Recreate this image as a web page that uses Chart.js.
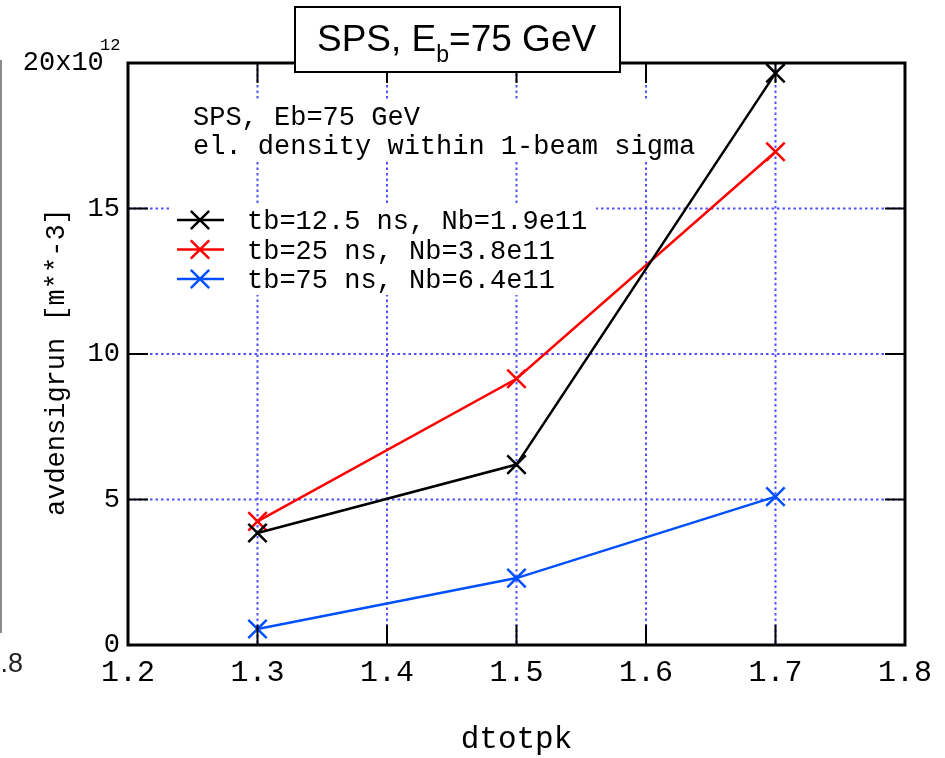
<!DOCTYPE html>
<html>
<head>
<meta charset="utf-8">
<script src="https://cdn.jsdelivr.net/npm/chart.js@4.4.1/dist/chart.umd.min.js"></script>
<style>
  html, body { margin: 0; padding: 0; background: #fff; }
  #wrap { width: 945px; height: 758px; }
</style>
</head>
<body>
<div id="wrap"><canvas id="plot" width="945" height="758"></canvas></div>
<script>
// dtotpk values where each run was made
var xValues = [1.3, 1.5, 1.7];

// average electron density within 1-beam sigma (units of 1e12 m**-3)
var dens125 = [3.85, 6.2, 19.65];
var dens25 = [4.25, 9.15, 16.95];
var dens75 = [0.55, 2.3, 5.1];

var seriesLabels = ['tb=12.5 ns, Nb=1.9e11', 'tb=25 ns, Nb=3.8e11', 'tb=75 ns, Nb=6.4e11'];
var seriesColors = ['#000000', '#ff0000', '#0050ff'];

var xTickStep = 0.1;
var yTickStep = 5;
var yTopLabel = '20x10';
var yTopExponent = '12';
var noteLines = ['SPS, Eb=75 GeV', 'el. density within 1-beam sigma'];

var MONO = '"Liberation Mono", "DejaVu Sans Mono", monospace';
var SANS = '"Liberation Sans", Arial, sans-serif';

function toPoints(ys) {
    return xValues.map(function (x, i) { return { x: x, y: ys[i] }; });
}

function makeSet(i, ys) {
    return {
        label: seriesLabels[i],
        data: toPoints(ys),
        showLine: true,
        borderColor: seriesColors[i],
        backgroundColor: seriesColors[i],
        borderWidth: 2.5,
        pointStyle: 'crossRot',
        pointRadius: 13,
        pointHoverRadius: 13,
        pointBorderWidth: 2.5,
        tension: 0,
        clip: false
    };
}

function drawCross(ctx, color, x, y, r) {
    ctx.save();
    ctx.strokeStyle = color;
    ctx.lineWidth = 2.5;
    var d = r * Math.SQRT1_2;
    ctx.beginPath();
    ctx.moveTo(x - d, y - d); ctx.lineTo(x + d, y + d);
    ctx.moveTo(x - d, y + d); ctx.lineTo(x + d, y - d);
    ctx.stroke();
    ctx.restore();
}

// grid, notes, legend, frame and title box
var decor = {
    id: 'decor',
    beforeDatasetsDraw: function (chart) {
        var ctx = chart.ctx, a = chart.chartArea;
        var xs = chart.scales.x, ys = chart.scales.y;
        ctx.save();
        ctx.strokeStyle = 'rgb(80,80,255)';
        ctx.lineWidth = 2;
        ctx.setLineDash([2.5, 3]);
        xs.ticks.forEach(function (t) {
            var px = xs.getPixelForValue(t.value);
            if (px <= a.left + 1 || px >= a.right - 1) return;
            ctx.beginPath(); ctx.moveTo(px, a.top); ctx.lineTo(px, a.bottom); ctx.stroke();
        });
        ys.ticks.forEach(function (t) {
            var py = ys.getPixelForValue(t.value);
            if (py <= a.top + 1 || py >= a.bottom - 1) return;
            ctx.beginPath(); ctx.moveTo(a.left, py); ctx.lineTo(a.right, py); ctx.stroke();
        });
        ctx.setLineDash([]);

        // white boxes behind the text
        ctx.fillStyle = '#fff';
        ctx.fillRect(a.left + 57, 100, 515, 60);
        ctx.fillRect(a.left + 44, 205, 424, 90);

        ctx.fillStyle = '#000';
        ctx.font = '27px ' + MONO;
        ctx.textAlign = 'left';
        ctx.textBaseline = 'alphabetic';
        ctx.fillText(noteLines[0], a.left + 65, 125);
        ctx.fillText(noteLines[1], a.left + 65, 154);

        // legend
        ctx.textBaseline = 'middle';
        chart.data.datasets.forEach(function (ds, i) {
            var y = 220 + i * 29.5;
            ctx.strokeStyle = ds.borderColor;
            ctx.lineWidth = 2.5;
            ctx.beginPath(); ctx.moveTo(a.left + 49, y); ctx.lineTo(a.left + 96, y); ctx.stroke();
            drawCross(ctx, ds.borderColor, a.left + 72, y, 13);
            ctx.fillStyle = '#000';
            ctx.fillText(ds.label, a.left + 119, y + 2);
        });
        ctx.restore();
    },
    afterDatasetsDraw: function (chart) {
        var ctx = chart.ctx, a = chart.chartArea;
        var xs = chart.scales.x, ys = chart.scales.y;
        var len = 20;
        ctx.save();
        ctx.strokeStyle = '#000';
        ctx.lineWidth = 2;
        ctx.beginPath();
        xs.ticks.forEach(function (t) {
            var px = xs.getPixelForValue(t.value);
            ctx.moveTo(px, a.bottom); ctx.lineTo(px, a.bottom - len);
            ctx.moveTo(px, a.top); ctx.lineTo(px, a.top + len);
        });
        ys.ticks.forEach(function (t) {
            var py = ys.getPixelForValue(t.value);
            ctx.moveTo(a.left, py); ctx.lineTo(a.left + len, py);
            ctx.moveTo(a.right, py); ctx.lineTo(a.right - len, py);
        });
        ctx.stroke();
        ctx.lineWidth = 3;
        ctx.strokeRect(a.left, a.top, a.right - a.left, a.bottom - a.top);
        ctx.restore();
    },
    afterDraw: function (chart) {
        var ctx = chart.ctx, ys = chart.scales.y;
        ctx.save();
        // exponent on the top y label
        ctx.fillStyle = '#000';
        ctx.font = '17px ' + MONO;
        ctx.textAlign = 'left';
        ctx.textBaseline = 'middle';
        ctx.fillText(yTopExponent, ys.right - 28, ys.getPixelForValue(ys.max) - 18);

        // title box
        ctx.fillStyle = '#fff';
        ctx.fillRect(295, 7, 325, 65);
        ctx.strokeStyle = '#000';
        ctx.lineWidth = 2;
        ctx.strokeRect(295, 7, 325, 65);
        ctx.fillStyle = '#000';
        ctx.textBaseline = 'alphabetic';
        var x = 317;
        ctx.font = '37px ' + SANS;
        ctx.fillText('SPS, E', x, 51);
        x += ctx.measureText('SPS, E').width;
        ctx.font = '23px ' + SANS;
        ctx.fillText('b', x, 62);
        x += ctx.measureText('b').width;
        ctx.font = '37px ' + SANS;
        ctx.fillText('=75 GeV', x, 51);

        // edge of the neighbouring panel
        ctx.strokeStyle = '#8a8a8a';
        ctx.lineWidth = 2;
        ctx.beginPath(); ctx.moveTo(1, 60); ctx.lineTo(1, 633); ctx.stroke();
        ctx.fillStyle = '#222';
        ctx.font = '27px ' + SANS;
        ctx.textAlign = 'right';
        ctx.fillText('1.8', 23, 672);
        ctx.restore();
    }
};

var ctx = document.getElementById('plot').getContext('2d');
var chart = new Chart(ctx, {
    type: 'scatter',
    data: {
        datasets: [makeSet(0, dens125), makeSet(1, dens25), makeSet(2, dens75)]
    },
    options: {
        responsive: false,
        animation: false,
        events: [],
        layout: { padding: { left: 0, right: 40, top: 63, bottom: 0 } },
        plugins: { legend: { display: false }, tooltip: { enabled: false } },
        scales: {
            x: {
                type: 'linear',
                min: 1.2,
                max: 1.8,
                grid: { display: false, drawTicks: false },
                border: { display: false },
                ticks: {
                    stepSize: xTickStep,
                    autoSkip: false,
                    maxRotation: 0,
                    padding: 13,
                    color: '#000',
                    font: { family: MONO, size: 30, lineHeight: 1 },
                    callback: function (v) { return Number(v).toFixed(1); }
                },
                title: {
                    display: true,
                    text: 'dtotpk',
                    color: '#000',
                    font: { family: MONO, size: 31, lineHeight: 1 },
                    padding: { top: 0, bottom: 3 }
                },
                afterFit: function (s) { s.height = 113; }
            },
            y: {
                type: 'linear',
                min: 0,
                max: 20,
                grid: { display: false, drawTicks: false },
                border: { display: false },
                ticks: {
                    stepSize: yTickStep,
                    padding: 8,
                    color: '#000',
                    font: { family: MONO, size: 27, lineHeight: 1 },
                    callback: function (v) { return v === 20 ? yTopLabel + ' ' : String(v); }
                },
                title: {
                    display: true,
                    text: 'avdensigrun [m**-3] ',
                    color: '#000',
                    font: { family: MONO, size: 27, lineHeight: 1 },
                    padding: { top: 43, bottom: 0 }
                },
                afterFit: function (s) { s.width = 128; }
            }
        }
    },
    plugins: [decor]
});
</script>
</body>
</html>
